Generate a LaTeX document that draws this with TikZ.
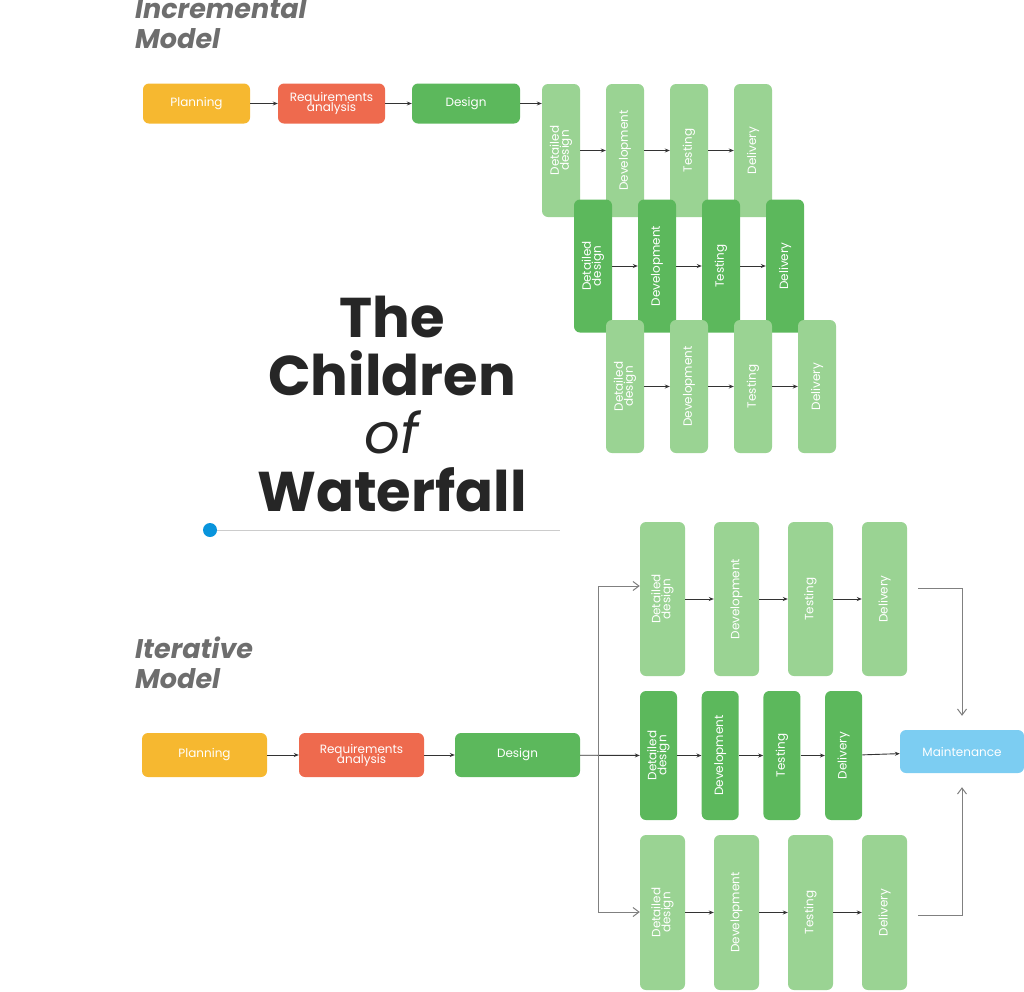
\documentclass[tikz,border=0pt]{standalone}
\usepackage{fontspec}
\setmainfont{Poppins}
\usetikzlibrary{positioning,calc,arrows.meta}
\definecolor{cplan}{HTML}{F6B830}
\definecolor{creq}{HTML}{EE6A4E}
\definecolor{cdes}{HTML}{5CB85C}
\definecolor{clight}{HTML}{9AD393}
\definecolor{cmaint}{HTML}{7CCDF2}
\definecolor{cmodel}{HTML}{6E6E6E}
\tikzset{
  figfont/.style={font=\fontsize{12}{13}\selectfont},
  stepbox/.style={rounded corners=6pt, text=white, align=center, inner sep=2pt},
  hbox/.style={stepbox, minimum height=40pt},
  vbox/.style={stepbox, rotate=90},
  steparrow/.style={-{Stealth[length=5pt,width=4pt]}, line width=0.9pt, black!80},
  flowline/.style={-{Straight Barb[length=6pt,width=9pt]}, line width=1pt, gray},
}
\begin{document}
\begin{tikzpicture}[x=1pt, y=-1pt, figfont]
  \useasboundingbox (0,0) rectangle (1024,991);

  % Incremental model
  \node[font=\fontsize{27}{30}\selectfont\bfseries\itshape, text=cmodel, align=left, anchor=north west, inner sep=0pt] (incTitle) at (135,-2) {Incremental\\Model};
  \node[hbox, fill=cplan, minimum width=107pt] (incPlan) at (196.5,103.5) {Planning};
  \node[hbox, fill=creq, minimum width=107pt] (incReq) at (331.5,103.5) {Requirements\\[-3pt]analysis};
  \node[hbox, fill=cdes, minimum width=108pt] (incDes) at (466,103.5) {Design};
  \draw[steparrow] (incPlan) -- (incReq);
  \draw[steparrow] (incReq) -- (incDes);
  \foreach \r/\xs/\yc/\col in {1/561/150.5/clight, 2/593/266/cdes, 3/625/386.5/clight} {
    \foreach \k/\dx/\txt in {1/0/{Detailed\\[-3pt]design}, 2/64/Development, 3/128/Testing, 4/192/Delivery} {
      \node[vbox, fill=\col, minimum width=133pt, minimum height=38pt] (inc\r-\k) at (\xs+\dx+\r*0-\r*0,\yc) {\txt};
    }
    \draw[steparrow] (inc\r-1) -- (inc\r-2);
    \draw[steparrow] (inc\r-2) -- (inc\r-3);
    \draw[steparrow] (inc\r-3) -- (inc\r-4);
  }
  \draw[steparrow] (incDes) -- (incDes -| inc1-1.north);

  % Title
  \node[font=\fontsize{56}{58}\selectfont\bfseries, align=center, text=black!85] (title) at (392,404) {The\\Children\\{\mdseries\itshape of}\\Waterfall};
  \coordinate (ruleEnd) at (560,530);
  \draw[black!20, line width=0.8pt] (210,530) -- (ruleEnd);
  \fill[cyan!80!blue] (210,530) circle (7pt);

  % Iterative model
  \node[font=\fontsize{27}{30}\selectfont\bfseries\itshape, text=cmodel, align=left, anchor=north west, inner sep=0pt] (itTitle) at (135,637) {Iterative\\Model};
  \node[hbox, fill=cplan, minimum width=125pt, minimum height=44pt] (itPlan) at (204.5,755) {Planning};
  \node[hbox, fill=creq, minimum width=125pt, minimum height=44pt] (itReq) at (361.5,755) {Requirements\\[-3pt]analysis};
  \node[hbox, fill=cdes, minimum width=125pt, minimum height=44pt] (itDes) at (517.5,755) {Design};
  \node[hbox, fill=cmaint, minimum width=124pt, minimum height=43pt] (itMaint) at (962,751.5) {Maintenance};
  \draw[steparrow] (itPlan) -- (itReq);
  \draw[steparrow] (itReq) -- (itDes);
  \foreach \r/\yc/\col/\w/\h/\step in {1/599/clight/45/154/74, 2/755.5/cdes/37/129/61.7, 3/912.5/clight/45/155/74} {
    \foreach \k/\txt in {1/{Detailed\\[-3pt]design}, 2/Development, 3/Testing, 4/Delivery} {
      \node[vbox, fill=\col, minimum width=\h pt, minimum height=\w pt] (it\r-\k) at ({640+\w/2+(\k-1)*\step},\yc) {\txt};
    }
    \draw[steparrow] (it\r-1) -- (it\r-2);
    \draw[steparrow] (it\r-2) -- (it\r-3);
    \draw[steparrow] (it\r-3) -- (it\r-4);
  }
  \draw[steparrow] (itDes) -- (it2-1);
  \draw[steparrow] (it2-4) -- (itMaint);
  \coordinate (split) at (598,755);
  \draw[flowline] (split) |- (it1-1.north |- 0,586);
  \draw[flowline] (split) |- (it3-1.north |- 0,912);
  \draw[flowline] (918,588) -| ($(itMaint.north)+(0,-14)$);
  \draw[flowline] (918,915) -| ($(itMaint.south)+(0,14)$);
\end{tikzpicture}
\end{document}
